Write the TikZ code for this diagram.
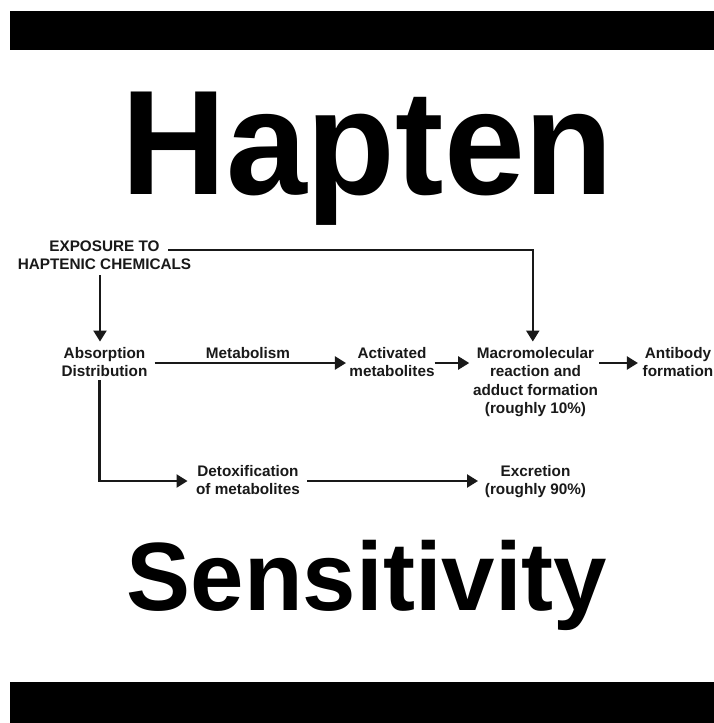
\documentclass[tikz,border=0pt]{standalone}
\usepackage{fontspec}
\setmainfont{Liberation Sans}
\usetikzlibrary{arrows.meta}
\newcommand\stk[1]{\begin{tabular}[t]{@{}c@{}}#1\end{tabular}}
\begin{document}
\begin{tikzpicture}[x=1pt,y=-1pt,
  lbl/.style={font=\fontsize{15.3}{18.5}\selectfont\bfseries, inner sep=0pt, anchor=base, text=black!90},
  big/.style={inner sep=0pt, anchor=base, text=black},
  arr/.style={line width=2.2pt, draw=black!90, -{Triangle[length=11pt,width=13pt]}},
  bar/.style={fill=black}]
\useasboundingbox (0,0) rectangle (714,723);
\fill[white] (0,0) rectangle (714,723);
\fill[bar] (10,11) rectangle (714,50);
\fill[bar] (10,682) rectangle (714,723);
\node[big, font=\fontsize{149}{150}\selectfont\bfseries] (title) at (367.5,194) {\scalebox{0.975}[1]{Hapten}};
\node[big, font=\fontsize{97}{98}\selectfont\bfseries] (subtitle) at (367,610) {\scalebox{0.99}[1]{Sensitivity}};
\node[lbl] (expo) at (104.5,251) {\stk{EXPOSURE TO\\HAPTENIC CHEMICALS}};
\node[lbl] (absorp) at (104.5,358) {\stk{Absorption\\Distribution}};
\node[lbl] (metab) at (248,358) {Metabolism};
\node[lbl] (activ) at (392,358) {\stk{Activated\\metabolites}};
\node[lbl] (macro) at (535.5,358) {\stk{Macromolecular\\reaction and\\adduct formation\\(roughly 10\%)}};
\node[lbl] (anti) at (678,358) {\stk{Antibody\\formation}};
\node[lbl] (detox) at (248,476) {\stk{Detoxification\\of metabolites}};
\node[lbl] (excr) at (535.5,476) {\stk{Excretion\\(roughly 90\%)}};
% connectors
\draw[arr] ([xshift=-4.5pt]expo.south) -- ([xshift=-4.5pt,yshift=3.3pt]absorp.north);
\draw[arr] ([xshift=-23pt,yshift=1pt]expo.base east) -| ([xshift=-2.7pt,yshift=3.3pt]macro.north);
\draw[arr] ([xshift=7pt,yshift=-5pt]absorp.base east) -- ([xshift=-3.3pt,yshift=-5pt]activ.base west);
\draw[arr] ([xshift=0pt,yshift=-5pt]activ.base east) -- ([xshift=-3.6pt,yshift=-5pt]macro.base west);
\draw[arr] ([xshift=1pt,yshift=-5pt]macro.base east) -- ([xshift=-4.6pt,yshift=-5pt]anti.base west);
\draw[arr] ([xshift=-5pt,yshift=2pt]absorp.south) |- ([xshift=-8.4pt,yshift=-5pt]detox.base west);
\draw[arr] ([xshift=7pt,yshift=-5pt]detox.base east) -- ([xshift=-6.7pt,yshift=-5pt]excr.base west);
\end{tikzpicture}
\end{document}
